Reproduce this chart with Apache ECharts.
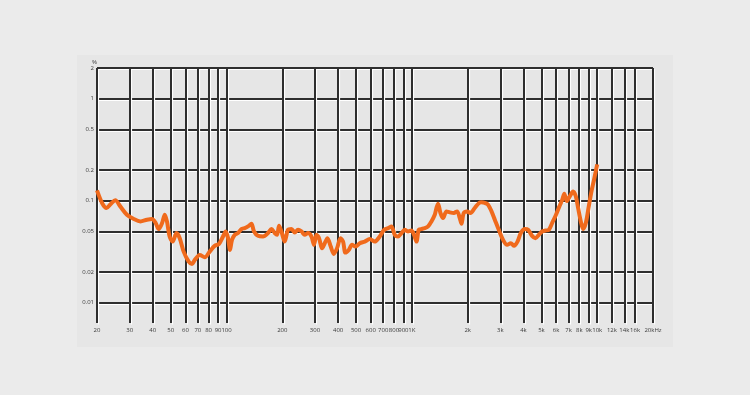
<!DOCTYPE html>
<html><head><meta charset="utf-8">
<script src="https://cdn.jsdelivr.net/npm/echarts@6/dist/echarts.min.js"></script>
<style>html,body{margin:0;padding:0;background:#ebebeb}#c{width:750px;height:395px}</style>
</head><body><div id="c"></div>
<script>
const freqTicks = [20,30,40,50,60,70,80,90,100,200,300,400,500,600,700,800,900,1000,2000,3000,4000,5000,6000,7000,8000,9000,10000,12000,14000,16000,20000];
const freqLabels = ['20','30','40','50','60','70','80','90','100','200','300','400','500','600','700','800','900','1K','2k','3k','4k','5k','6k','7k','8k','9k','10k','12k','14k','16k','20kHz'];
const levelTicks = [0.01,0.02,0.05,0.1,0.2,0.5,1,2];
const levelLabels = ['0.01','0.02','0.05','0.1','0.2','0.5','1','2'];

const freq = [20,21.3,22.5,23.8,25.1,26.7,29.0,31.6,34.3,37.2,39.6,41.3,43.1,44.9,46.4,47.7,49.3,51.2,53.7,55.9,58.7,62.5,65.1,67.4,71.7,76.3,81.1,86.3,91.1,95.7,99,101.9,104.4,107,110.7,115.3,120.3,125.4,130.6,136.2,140.7,147.9,157.3,167.4,174.7,182,187.3,192,197.8,206,214.6,224,233.4,243,253.6,264.2,275.3,287.2,296.7,305.6,315.6,327.6,338.8,350.4,365,378.8,394.8,411.8,425.4,438.2,456.5,475.5,496,523.4,557,592.6,630.4,670.8,707.8,743.9,776,808.6,842.4,878.6,915.4,953.8,994.8,1027,1059,1089,1126,1174,1223,1275,1329,1357,1385,1426,1473,1537,1601,1683,1753,1813,1852,1905,1985,2070,2184,2304,2374,2474,2577,2690,2802,2944,3105,3264,3417,3561,3714,3870,4066,4237,4452,4644,4838,5040,5260,5480,5710,5978,6244,6480,6642,6852,7112,7410,7664,7886,8155,8391,8678,9006,9314,9620,10000];
const thd = [0.126,0.0949,0.0847,0.0934,0.1007,0.0878,0.0727,0.066,0.0625,0.0649,0.066,0.0611,0.0526,0.0602,0.0727,0.0625,0.0444,0.0396,0.048,0.0428,0.0316,0.0252,0.0239,0.0262,0.0293,0.0278,0.0316,0.036,0.0376,0.0444,0.0498,0.0428,0.0328,0.0412,0.0462,0.048,0.0526,0.0538,0.0558,0.0593,0.0498,0.0451,0.0444,0.048,0.0526,0.048,0.0462,0.0567,0.0498,0.0396,0.0517,0.0526,0.0486,0.0517,0.0498,0.0462,0.048,0.0444,0.0368,0.0462,0.0428,0.0341,0.0382,0.0428,0.0354,0.030,0.0341,0.0428,0.0396,0.0309,0.0328,0.0368,0.0354,0.0382,0.0396,0.0419,0.0396,0.0444,0.0517,0.0538,0.0558,0.0462,0.0444,0.048,0.0517,0.0498,0.0509,0.0462,0.0396,0.0517,0.0526,0.0538,0.0558,0.0625,0.0727,0.0847,0.0934,0.0756,0.0675,0.0784,0.0767,0.0756,0.0784,0.0675,0.0593,0.0756,0.0784,0.0756,0.0847,0.0949,0.0962,0.0949,0.0913,0.0784,0.0649,0.0517,0.0412,0.0368,0.0382,0.036,0.0396,0.048,0.0526,0.0517,0.0451,0.0428,0.0462,0.0498,0.0509,0.0517,0.0602,0.0719,0.0873,0.1023,0.117,0.0989,0.1103,0.1227,0.1103,0.0847,0.0625,0.0526,0.0602,0.0878,0.1235,0.1612,0.2267];

const chart = echarts.init(document.getElementById('c'), null, {renderer: 'canvas'});
const fmtX = v => { const i = freqTicks.findIndex(t => Math.abs(t - v) / t < 1e-6); return i >= 0 ? freqLabels[i] : ''; };
const fmtY = v => { const i = levelTicks.findIndex(t => Math.abs(t - v) / t < 1e-6); return i >= 0 ? levelLabels[i] : ''; };

function xAx(gi, show) {
  return {
    type: 'log', gridIndex: gi, min: 20, max: 20000, logBase: 10,
    axisLine: {show: false},
    axisTick: {show: false, customValues: freqTicks},
    axisLabel: {show: show, customValues: freqTicks, formatter: fmtX, fontSize: 6, color: '#3a3a3a', fontFamily: 'Open Sans', margin: 4},
    splitLine: {show: true, lineStyle: {color: show ? '#2e2e2e' : '#ffffff', width: show ? 2 : 1.2}},
    minorSplitLine: {show: false}
  };
}
function yAx(gi, show) {
  return {
    type: 'log', gridIndex: gi, min: 0.0063, max: 2, logBase: 10,
    name: show ? '%' : '', nameGap: 2, nameTextStyle: {fontSize: 6, color: '#3a3a3a', fontFamily: 'Open Sans', align: 'right', padding: [0, 0, 0, 0]},
    axisLine: {show: false},
    axisTick: {show: false, customValues: levelTicks},
    axisLabel: {show: show, customValues: levelTicks, formatter: fmtY, fontSize: 6, color: '#3a3a3a', fontFamily: 'Open Sans', margin: 3},
    splitLine: {show: true, lineStyle: {color: show ? '#2e2e2e' : '#ffffff', width: show ? 2 : 1.2}}
  };
}

chart.setOption({
  backgroundColor: '#ebebeb',
  animation: false,
  graphic: [{type: 'rect', shape: {x: 77, y: 55, width: 596, height: 292}, style: {fill: '#e6e6e6'}, z: -10}],
  grid: [
    {left: 98.5, right: 95.5, top: 69.5, bottom: 70.5, containLabel: false},
    {left: 97, right: 97, top: 68, bottom: 72, containLabel: false}
  ],
  xAxis: [xAx(0, false), xAx(1, true)],
  yAxis: [yAx(0, false), yAx(1, true)],
  series: [{
    type: 'line', xAxisIndex: 1, yAxisIndex: 1,
    data: freq.map((f, i) => [f, thd[i]]),
    showSymbol: false, smooth: 0.3,
    lineStyle: {color: '#f06a1c', width: 4},
    z: 10
  }]
});
</script></body></html>
